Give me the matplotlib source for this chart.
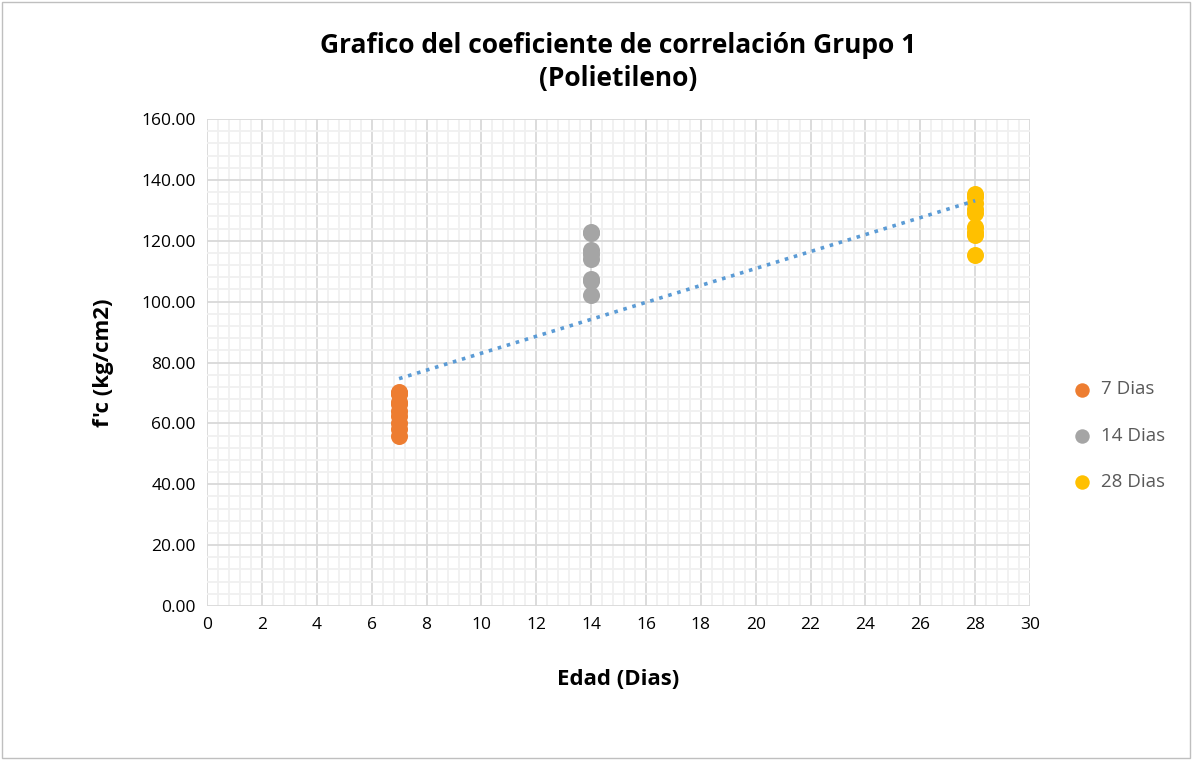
import numpy as np
import matplotlib.pyplot as plt
from matplotlib.ticker import MultipleLocator, FormatStrFormatter

# data
dias_7 = [70.3, 70.0, 69.5, 67.0, 66.5, 64.0, 62.5, 60.0, 58.0, 55.8]
dias_14 = [123.0, 122.5, 117.0, 115.5, 114.0, 107.5, 106.8, 102.3]
dias_28 = [135.5, 134.5, 132.5, 130.5, 129.0, 124.5, 123.0, 122.0, 115.3]
series = [("7 Dias", 7, dias_7, "#ed7d31"),
          ("14 Dias", 14, dias_14, "#a5a5a5"),
          ("28 Dias", 28, dias_28, "#ffc000")]

plt.rcParams['font.family'] = ['Open Sans', 'DejaVu Sans']

fig = plt.figure(figsize=(11.92, 7.6), dpi=100)
fig.patches.append(plt.Rectangle((0.002, 0.002), 0.996, 0.996, transform=fig.transFigure,
                                 fill=False, edgecolor="#bfbfbf", linewidth=1))
ax = fig.add_axes([0.1737, 0.2026, 0.6904, 0.6408])

all_x, all_y = [], []
for name, age, vals, col in series:
    ax.scatter([age] * len(vals), vals, s=150, color=col, label=name, zorder=3, linewidths=0)
    all_x += [age] * len(vals)
    all_y += vals

m, b = np.polyfit(all_x, all_y, 1)
xt = np.array([7, 28])
ax.plot(xt, m * xt + b, linestyle=(0, (1, 1.6)), color="#5b9bd5", linewidth=2.6, zorder=4)

ax.set_xlim(0, 30)
ax.set_ylim(0, 160)
ax.xaxis.set_major_locator(MultipleLocator(2))
ax.xaxis.set_minor_locator(MultipleLocator(0.4))
ax.yaxis.set_major_locator(MultipleLocator(20))
ax.yaxis.set_minor_locator(MultipleLocator(4))
ax.yaxis.set_major_formatter(FormatStrFormatter("%.2f"))
ax.grid(which="major", color="#d9d9d9", linewidth=1.3)
ax.grid(which="minor", color="#f0f0f0", linewidth=1.3)
ax.set_axisbelow(True)
for s in ax.spines.values():
    s.set_visible(False)
ax.tick_params(which="both", length=0, labelsize=12.5, colors="#000000", pad=8)

ax.set_title("Grafico del coeficiente de correlación Grupo 1\n(Polietileno)",
             fontsize=19, fontweight="bold", pad=24, linespacing=1.25)
ax.set_xlabel("Edad (Dias)", fontsize=16, fontweight="bold", labelpad=26)
ax.set_ylabel("f'c (kg/cm2)", fontsize=16, fontweight="bold", labelpad=20)

leg = ax.legend(loc="center left", bbox_to_anchor=(1.02, 0.35), frameon=False,
                fontsize=13.5, handletextpad=0.0, labelspacing=1.5, markerscale=0.85)
for t in leg.get_texts():
    t.set_color("#595959")

fig.savefig("out.png", dpi=100)
